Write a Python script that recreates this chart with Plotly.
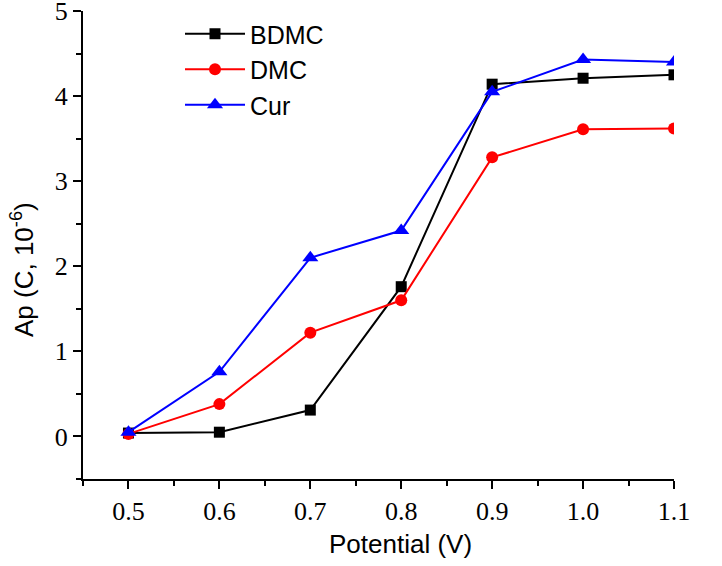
import plotly.graph_objects as go

potential = [0.5, 0.6, 0.7, 0.8, 0.9, 1.0, 1.1]
bdmc = [0.04, 0.05, 0.31, 1.76, 4.14, 4.21, 4.25]
dmc = [0.03, 0.38, 1.22, 1.60, 3.28, 3.61, 3.62]
cur = [0.05, 0.76, 2.10, 2.42, 4.05, 4.43, 4.40]

x_ticks = [0.5, 0.6, 0.7, 0.8, 0.9, 1.0, 1.1]
x_ticklabels = ["0.5", "0.6", "0.7", "0.8", "0.9", "1.0", "1.1"]
y_ticks = [0, 1, 2, 3, 4, 5]

fig = go.Figure()
fig.add_trace(go.Scatter(x=potential, y=bdmc, name="BDMC", mode="lines+markers",
                         line=dict(color="black", width=2),
                         marker=dict(symbol="square", size=11, color="black")))
fig.add_trace(go.Scatter(x=potential, y=dmc, name="DMC", mode="lines+markers",
                         line=dict(color="#ff0000", width=2),
                         marker=dict(symbol="circle", size=12, color="#ff0000")))
fig.add_trace(go.Scatter(x=potential, y=cur, name="Cur", mode="lines+markers",
                         line=dict(color="#0000ff", width=2),
                         marker=dict(symbol="triangle-up", size=14, color="#0000ff")))

axis_common = dict(
    showline=True, linecolor="black", linewidth=2,
    ticks="outside", ticklen=8, tickwidth=2, tickcolor="black",
    showgrid=False, zeroline=False, ticklabeloverflow="allow", automargin=False,
    tickfont=dict(family="Liberation Serif", size=26, color="black"),
)

fig.update_xaxes(range=[0.45, 1.1], tickvals=x_ticks, ticktext=x_ticklabels,
                 minor=dict(ticks="outside", ticklen=5, tickwidth=2, tickcolor="black", dtick=0.05, tick0=0.45),
                 **axis_common)
fig.update_yaxes(range=[-0.5, 5], tickvals=y_ticks,
                 minor=dict(ticks="outside", ticklen=5, tickwidth=2, tickcolor="black", dtick=0.5, tick0=0),
                 **axis_common)

L, R, T, B = 83, 48, 11, 87
W, H = 722, 566
pw, ph = W - L - R, H - T - B


def px_to_paper(px, py):
    return (px - L) / pw, 1 - (py - T) / ph


ax, ay = px_to_paper(401, 544)
bx, by = px_to_paper(22, 270)
lx, ly = px_to_paper(180, 11)

fig.update_layout(
    width=W, height=H,
    margin=dict(l=L, r=R, t=T, b=B),
    plot_bgcolor="white", paper_bgcolor="white",
    showlegend=True,
    legend=dict(x=lx, y=ly, xanchor="left", yanchor="top",
                font=dict(family="Liberation Sans", size=25, color="black"),
                bgcolor="rgba(0,0,0,0)", tracegroupgap=0, itemwidth=60),
    annotations=[
        dict(text="Potential (V)", x=ax, y=ay, xref="paper", yref="paper",
             xanchor="center", yanchor="middle", showarrow=False,
             font=dict(family="Liberation Sans", size=26, color="black")),
        dict(text="Ap (C, 10<sup>-6</sup>)", x=bx, y=by, xref="paper", yref="paper",
             xanchor="center", yanchor="middle", showarrow=False, textangle=-90,
             font=dict(family="Liberation Sans", size=26, color="black")),
    ],
)

fig.write_html("out.html", config={"displayModeBar": False},
               post_script="document.body.style.margin='0';")
